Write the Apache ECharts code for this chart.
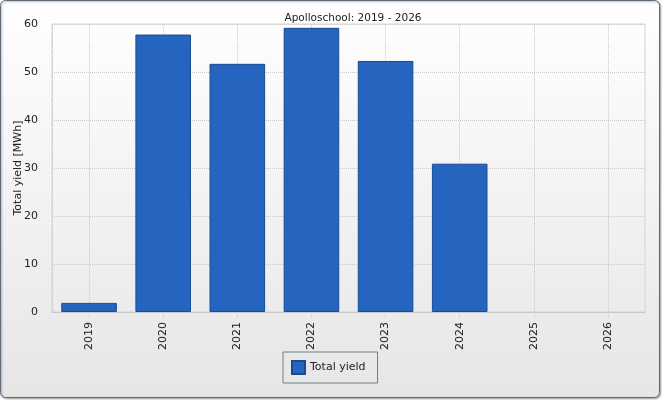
<!DOCTYPE html>
<html><head><meta charset="utf-8">
<script src="https://cdn.jsdelivr.net/npm/echarts@6/dist/echarts.min.js"></script>
<style>html,body{margin:0;padding:0;background:#fff}#c{width:662px;height:400px}</style>
</head><body><div id="c"></div>
<script>
const categories = ['2019','2020','2021','2022','2023','2024','2025','2026'];
const totalYield = [1.9, 57.8, 51.7, 59.2, 52.3, 30.9, null, null];
const seriesName = 'Total yield';
const titleText = 'Apolloschool: 2019 - 2026';
const yAxisName = 'Total yield [MWh]';

const chart = echarts.init(document.getElementById('c'));
const font = 'DejaVu Sans';
chart.setOption({
  animation: false,
  backgroundColor: 'transparent',
  graphic: [{
    type: 'rect', z: -10, silent: true,
    shape: { x: 0.5, y: 0.5, width: 659, height: 397, r: 5 },
    style: {
      fill: { type: 'linear', x: 0, y: 0, x2: 0, y2: 1, colorStops: [
        { offset: 0, color: '#ffffff' }, { offset: 1, color: '#e6e6e6' }] },
      stroke: '#5f6b78', lineWidth: 1,
      shadowColor: 'rgba(0,0,0,0.35)', shadowOffsetX: 1, shadowOffsetY: 1, shadowBlur: 2
    }
  }],
  title: {
    text: titleText, left: 348, textAlign: 'center', top: 8,
    textStyle: { fontFamily: font, fontSize: 10.5, fontWeight: 'normal', color: '#222' }
  },
  legend: {
    data: [seriesName], left: 283, top: 352,
    itemWidth: 13, itemHeight: 13, itemGap: 6,
    padding: [8, 12, 8, 8],
    borderColor: '#6f7c88', borderWidth: 1, borderRadius: 0,
    icon: 'rect',
    textStyle: { fontFamily: font, fontSize: 11, color: '#222' }
  },
  grid: { left: 52, right: 17, top: 24, bottom: 88, containLabel: false, outerBoundsMode: 'none',
    show: true, borderColor: '#d4d4d4', borderWidth: 1, backgroundColor: 'transparent' },
  xAxis: {
    type: 'category', data: categories,
    axisLine: { lineStyle: { color: '#c4c8cc', width: 1 } },
    axisTick: { show: true, alignWithLabel: true, length: 5, lineStyle: { color: '#c0c0c0', type: 'dotted' } },
    axisLabel: { rotate: 90, fontFamily: font, fontSize: 11, color: '#222', margin: 10 },
    splitLine: { show: false }
  },
  yAxis: {
    type: 'value', min: 0, max: 60, interval: 10,
    name: yAxisName, nameLocation: 'middle', nameGap: 28, nameRotate: 90, nameMoveOverlap: false,
    nameTextStyle: { fontFamily: font, fontSize: 11, color: '#222' },
    axisLine: { show: true, lineStyle: { color: '#d0d0d0', type: 'dashed' } },
    axisTick: { show: false },
    axisLabel: { fontFamily: font, fontSize: 11, color: '#222', margin: 14 },
    splitLine: { lineStyle: { color: '#c8c8c8', type: 'dotted' } }
  },
  series: [{
    name: seriesName, type: 'bar', data: totalYield, barWidth: '75%', z: 3,
    itemStyle: { color: '#2565c0', borderColor: '#1a4a94', borderWidth: 1 },
    markLine: {
      silent: true, symbol: 'none', z: 1, label: { show: false },
      lineStyle: { color: '#c8c8c8', type: 'dotted', width: 1 },
      data: categories.map(c => ({ xAxis: c }))
    }
  }]
});
</script></body></html>
